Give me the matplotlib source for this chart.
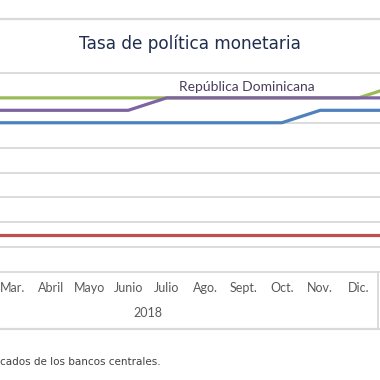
import matplotlib
matplotlib.use("Agg")
import matplotlib.pyplot as plt
from matplotlib.lines import Line2D

# Months of 2018 plus Jan 2019 (the chart continues past Dec.)
meses = ['Ene.', 'Feb.', 'Mar.', 'Abril', 'Mayo', 'Junio', 'Julio',
         'Ago.', 'Sept.', 'Oct.', 'Nov.', 'Dic.']
x_pts = list(range(13))  # Ene. 2018 ... Ene. 2019

# Policy rates (%)
honduras = [5.5, 5.5, 5.5, 5.5, 5.5, 5.5, 5.5, 5.5, 5.5, 5.5, 5.5, 5.5, 5.75]
rep_dom = [5.25, 5.25, 5.25, 5.25, 5.25, 5.25, 5.5, 5.5, 5.5, 5.5, 5.5, 5.5, 5.5]
costa_rica = [4.75, 5.0, 5.0, 5.0, 5.0, 5.0, 5.0, 5.0, 5.0, 5.0, 5.25, 5.25, 5.25]
guatemala = [2.75] * 13

W, H = 380, 380
fig = plt.figure(figsize=(3.8, 3.8), dpi=100)

# axes spans 73px..272px vertically (6.0 .. 2.0)
ax = fig.add_axes([0, (H - 272) / H, 1, (272 - 73) / H])

grid_c = '#d9d9d9'
for v in [2.0, 2.5, 3.0, 3.5, 4.0, 4.5, 5.0, 5.5, 6.0]:
    ax.axhline(v, color=grid_c, lw=1.3, zorder=1, clip_on=False)

lw = 2.3
ax.plot(x_pts, guatemala, color='#c0504d', lw=lw, zorder=3)
ax.plot(x_pts, costa_rica, color='#4f81bd', lw=lw, zorder=3)
ax.plot(x_pts, honduras, color='#9bbb59', lw=lw, zorder=3)
ax.plot(x_pts, rep_dom, color='#8064a2', lw=lw, zorder=4)

ax.text(8.1, 5.72, 'República Dominicana', ha='center', va='center',
        fontsize=10, color='#4a3d5c', family='Lato')

for s in ax.spines.values():
    s.set_visible(False)
ax.set_yticks([])
ax.set_xticks(range(12))
ax.set_xticklabels(meses, fontsize=9, color='#595959', family='Lato')
ax.tick_params(axis='x', length=0, pad=7.5)
# cropped view: Mar. sits at 13px, one month = 38.4px
ax.set_xlim(1.661, 11.557)
ax.set_ylim(2.0, 6.0)

ax.text(5.5, (272 - 313) / 199, '2018', transform=ax.get_xaxis_transform(),
        ha='center', va='center', fontsize=9, color='#595959', family='Lato')

# category table lines
ax.plot([11.5, 11.5], [0, (272 - 329) / 199], transform=ax.get_xaxis_transform(),
        color=grid_c, lw=1.3, clip_on=False)
fig.add_artist(Line2D([0, 1], [1 - 329 / H, 1 - 329 / H], color=grid_c, lw=1.6))
fig.add_artist(Line2D([0, 1], [1 - 19 / H, 1 - 19 / H], color=grid_c, lw=1.6))

fig.text(0.5, 1 - 44 / H, 'Tasa de política monetaria', ha='center', va='center',
         fontsize=12.2, color='#1f2d4d', family='DejaVu Sans')
fig.text(0.0, 1 - 362 / H, 'cados de los bancos centrales.', ha='left', va='center',
         fontsize=7.5, color='#404040', family='DejaVu Sans')

fig.savefig('out.png', dpi=100)
